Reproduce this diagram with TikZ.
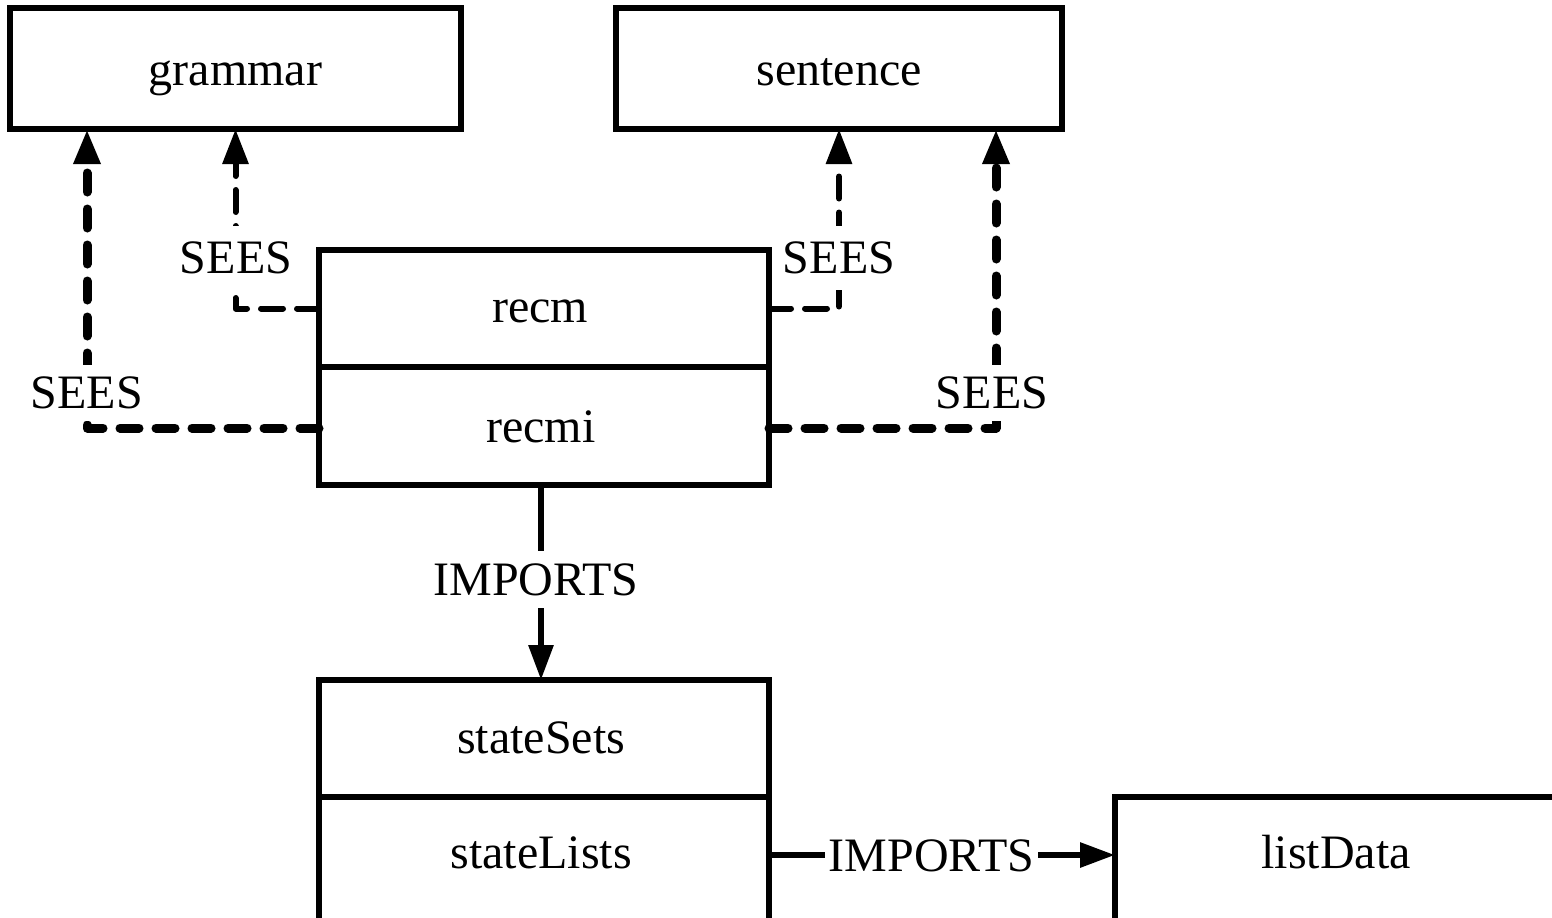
\documentclass[tikz,border=0pt]{standalone}
\usepackage{fontspec}
\setmainfont{Liberation Serif}
\usetikzlibrary{arrows.meta,calc}
\begin{document}
\begin{tikzpicture}[x=0.5pt,y=-0.5pt,
  box/.style={draw, line width=2.6pt, rectangle, inner sep=0pt, outer sep=0pt},
  txt/.style={font=\fontsize{24}{28}\selectfont, anchor=base, inner sep=0pt},
  lbl/.style={font=\fontsize{24}{28}\selectfont, fill=white, inner xsep=2pt, inner ysep=6pt},
  sees/.style={dash pattern=on 11pt off 7pt, line width=3pt, line cap=round, line join=round, -{Triangle[length=17.5pt,width=12.5pt]}},
  seesthick/.style={sees, line width=4.5pt, dash pattern=on 9.5pt off 8.5pt},
  imports/.style={line width=3pt, -{Triangle[length=17.5pt,width=12pt]}}]
\useasboundingbox (0,0) rectangle (1552,917);
\clip (0,0) rectangle (1552,917);

% boxes
\node[box, minimum width=225.5pt, minimum height=60.5pt] (grammar) at (235.5,68.5) {};
\node[txt] (tgrammar) at (235.5,85) {grammar};
\node[box, minimum width=223pt, minimum height=60.5pt] (sentence) at (839,68.5) {};
\node[txt] (tsentence) at (839,85) {sentence};

\node[box, minimum width=225pt, minimum height=58.5pt] (recm) at (544,308.5) {};
\node[txt] (trecm) at (540,322) {recm};
\node[box, minimum width=225pt, minimum height=59pt] (recmi) at (544,426) {};
\node[txt] (trecmi) at (541,442) {recmi};

\node[box, minimum width=225pt, minimum height=58.5pt] (stateSets) at (544,738.5) {};
\node[txt] (tstateSets) at (541,753) {stateSets};
\node[box, minimum width=225pt, minimum height=71.5pt] (stateLists) at (544,868.5) {};
\node[txt] (tstateLists) at (541,868) {stateLists};

\node[box, minimum width=252.5pt, minimum height=71.5pt] (listData) at (1367.5,868.5) {};
\node[txt] (tlistData) at (1336,868) {listData};

% connectors
\draw[sees] (recm.west) -| (grammar.south);
\draw[seesthick] ([yshift=-1pt]recmi.west) -| ([xshift=38.5pt]grammar.south west);
\draw[sees] (recm.east) -| (sentence.south);
\draw[seesthick] ([yshift=-1pt]recmi.east) -| ([xshift=-33pt]sentence.south east);
\draw[imports] ([xshift=-1.5pt]recmi.south) -- ([xshift=-1.5pt]stateSets.north);
\draw[imports] ([yshift=-29pt]stateLists.north east) -- ([yshift=-29pt]listData.north west);

% labels
\node[lbl, inner ysep=8pt] (s1) at (236,258) {SEES};
\node[lbl, inner ysep=8pt] (s2) at (839,258) {SEES};
\node[lbl] (s3) at (87,393) {SEES};
\node[lbl] (s4) at (992,393) {SEES};
\node[lbl] (i1) at (536,579.5) {IMPORTS};
\node[lbl] (i2) at (931.5,855.5) {IMPORTS};
\end{tikzpicture}
\end{document}
